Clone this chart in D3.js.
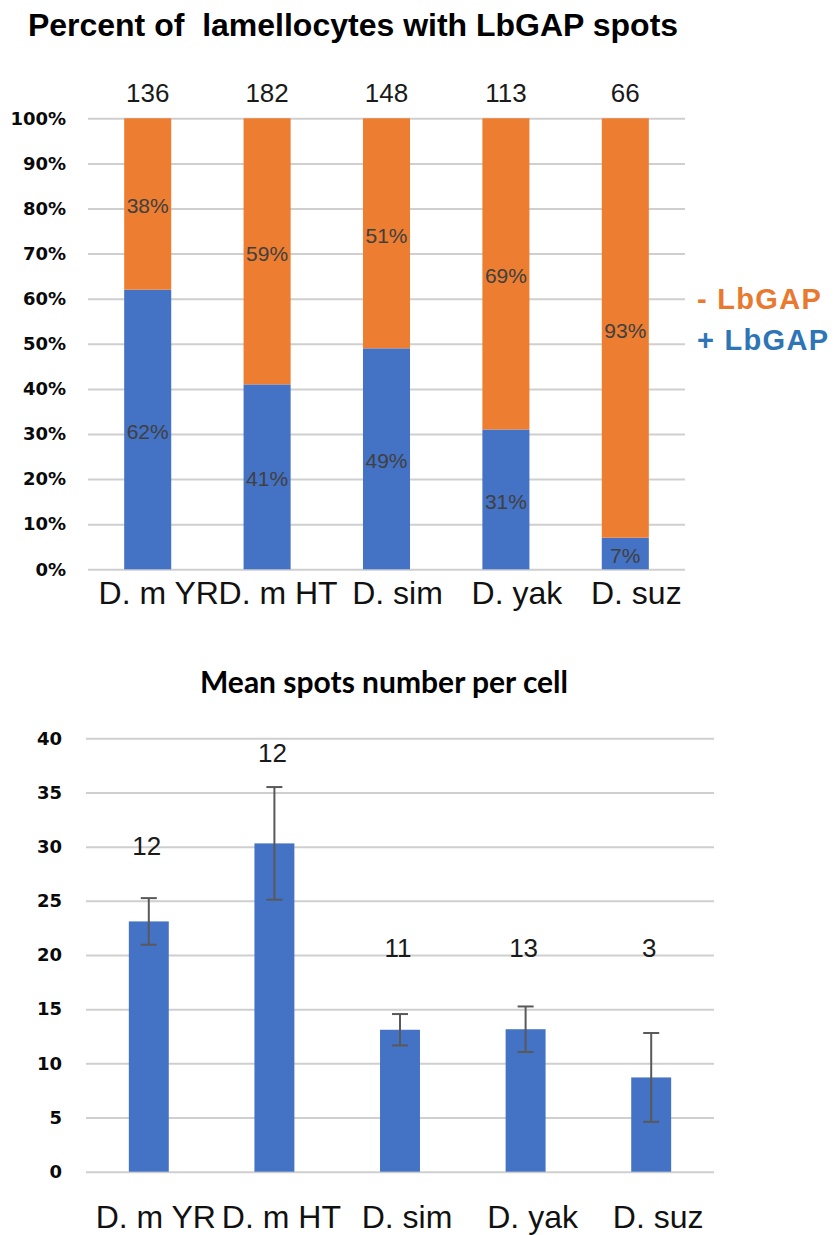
<!DOCTYPE html>
<html>
<head>
<meta charset="utf-8">
<script src="https://cdn.jsdelivr.net/npm/d3@7"></script>
<style>
  html, body { margin: 0; padding: 0; background: #fff; }
  svg { display: block; }
</style>
</head>
<body>
<svg id="chart" width="834" height="1235"></svg>
<script>
// Species / strains compared in both panels
const categories = ["D. m YR", "D. m HT", "D. sim", "D. yak", "D. suz"];

// Panel 1: share of lamellocytes with (+) and without (-) LbGAP spots, in percent
const plusPct = [62, 41, 49, 31, 7];
const minusPct = [38, 59, 51, 69, 93];
// number of lamellocytes scored per strain
const cellCounts = [136, 182, 148, 113, 66];
const pctTicks = [0, 10, 20, 30, 40, 50, 60, 70, 80, 90, 100];

// Panel 2: mean number of LbGAP spots per cell, with error bars
const meanSpots = [23.1, 30.3, 13.1, 13.15, 8.7];
const spotsErr = [2.15, 5.2, 1.45, 2.1, 4.1];
// number of cells averaged per strain
const nCells = [12, 12, 11, 13, 3];
const spotTicks = [0, 5, 10, 15, 20, 25, 30, 35, 40];

const BLUE = "#4472C4", ORANGE = "#ED7D31", GRID = "#cfcfcf";
const svg = d3.select("#chart");

// ---------- Panel 1: stacked percentage bars ----------
{
  const x = d3.scaleBand().domain(categories).range([88, 685])
    .paddingInner(0.606).paddingOuter(0.303);
  const y = d3.scaleLinear().domain([0, 100]).range([569.3, 118.3]);
  const g = svg.append("g");

  g.append("text").attr("x", 353).attr("y", 36).attr("text-anchor", "middle")
    .attr("font-family", "Liberation Sans, Arial, sans-serif").attr("font-weight", "bold")
    .attr("font-size", 32).attr("fill", "#000")
    .attr("xml:space", "preserve")
    .text("Percent of  lamellocytes with LbGAP spots");

  const yAxis = g.append("g").attr("transform", "translate(88,0)")
    .call(d3.axisLeft(y).tickValues(pctTicks).tickSize(-(685 - 88)).tickPadding(22)
      .tickFormat(d => d + "%"));
  yAxis.select(".domain").remove();
  yAxis.selectAll(".tick line").attr("stroke", GRID).attr("stroke-width", 2);
  yAxis.selectAll(".tick text").attr("font-family", "DejaVu Sans, sans-serif")
    .attr("font-weight", "bold").attr("font-size", 18).attr("fill", "#0a0a0a");

  const rows = categories.map((c, i) => ({ c, plus: plusPct[i], minus: minusPct[i], n: cellCounts[i] }));

  g.selectAll("rect.plus").data(rows).join("rect").attr("class", "plus")
    .attr("x", d => x(d.c)).attr("width", x.bandwidth())
    .attr("y", d => y(d.plus)).attr("height", d => y(0) - y(d.plus))
    .attr("fill", BLUE);
  g.selectAll("rect.minus").data(rows).join("rect").attr("class", "minus")
    .attr("x", d => x(d.c)).attr("width", x.bandwidth())
    .attr("y", d => y(d.plus + d.minus)).attr("height", d => y(d.plus) - y(d.plus + d.minus))
    .attr("fill", ORANGE);

  const segLabel = (sel) => sel.attr("text-anchor", "middle").attr("dominant-baseline", "central")
    .attr("font-family", "Liberation Sans, Arial, sans-serif").attr("font-size", 21).attr("fill", "#404040");
  g.selectAll("text.plus").data(rows).join("text").attr("class", "plus")
    .attr("x", d => x(d.c) + x.bandwidth() / 2).attr("y", d => y(d.plus / 2) + 2)
    .text(d => d.plus + "%").call(segLabel);
  g.selectAll("text.minus").data(rows).join("text").attr("class", "minus")
    .attr("x", d => x(d.c) + x.bandwidth() / 2).attr("y", d => y(d.plus + d.minus / 2) + 2)
    .text(d => d.minus + "%").call(segLabel);

  // cell counts above each bar
  g.selectAll("text.count").data(rows).join("text").attr("class", "count")
    .attr("x", d => x(d.c) + x.bandwidth() / 2).attr("y", y(100) - 16)
    .attr("text-anchor", "middle").attr("font-family", "Liberation Sans, Arial, sans-serif")
    .attr("font-size", 26).attr("fill", "#1a1a1a").text(d => d.n);

  // category labels
  g.selectAll("text.cat").data(categories).join("text").attr("class", "cat")
    .attr("x", d => x(d) + x.bandwidth() / 2 + 11).attr("y", 604)
    .attr("text-anchor", "middle").attr("font-family", "Liberation Sans, Arial, sans-serif")
    .attr("font-size", 32).attr("fill", "#111").text(d => d);

  // legend
  const leg = [{ t: "- LbGAP", c: "#E8792F", y: 309 }, { t: "+ LbGAP", c: "#2E75B6", y: 350 }];
  g.selectAll("text.leg").data(leg).join("text").attr("class", "leg")
    .attr("x", 697).attr("y", d => d.y)
    .attr("font-family", "Liberation Sans, Arial, sans-serif").attr("font-weight", "bold")
    .attr("font-size", 29).attr("letter-spacing", 1.3).attr("fill", d => d.c).text(d => d.t);
}

// ---------- Panel 2: mean spots per cell with error bars ----------
{
  const x = d3.scaleBand().domain(categories).range([86, 714])
    .paddingInner(0.682).paddingOuter(0.341);
  const y = d3.scaleLinear().domain([0, 40]).range([1171.7, 738.3]);
  const g = svg.append("g");

  g.append("text").attr("x", 384).attr("y", 693).attr("text-anchor", "middle")
    .attr("font-family", "Lato, sans-serif").attr("font-weight", "bold")
    .attr("font-size", 30).attr("fill", "#000")
    .text("Mean spots number per cell");

  const yAxis = g.append("g").attr("transform", "translate(86,0)")
    .call(d3.axisLeft(y).tickValues(spotTicks).tickSize(-(714 - 86)).tickPadding(24));
  yAxis.select(".domain").remove();
  yAxis.selectAll(".tick line").attr("stroke", GRID).attr("stroke-width", 2);
  yAxis.selectAll(".tick text").attr("font-family", "DejaVu Sans, sans-serif")
    .attr("font-weight", "bold").attr("font-size", 18).attr("fill", "#0a0a0a");

  const rows = categories.map((c, i) => ({ c, m: meanSpots[i], e: spotsErr[i], n: nCells[i] }));

  g.selectAll("rect.bar").data(rows).join("rect").attr("class", "bar")
    .attr("x", d => x(d.c)).attr("width", x.bandwidth())
    .attr("y", d => y(d.m)).attr("height", d => y(0) - y(d.m))
    .attr("fill", BLUE);

  // error bars
  const cx = d => x(d.c) + x.bandwidth() / 2;
  const eb = g.selectAll("g.err").data(rows).join("g").attr("class", "err")
    .attr("stroke", "#595959").attr("stroke-width", 2);
  eb.append("line").attr("x1", cx).attr("x2", cx)
    .attr("y1", d => y(d.m + d.e)).attr("y2", d => y(d.m - d.e));
  eb.append("line").attr("x1", d => cx(d) - 8).attr("x2", d => cx(d) + 8)
    .attr("y1", d => y(d.m + d.e)).attr("y2", d => y(d.m + d.e));
  eb.append("line").attr("x1", d => cx(d) - 8).attr("x2", d => cx(d) + 8)
    .attr("y1", d => y(d.m - d.e)).attr("y2", d => y(d.m - d.e));

  // n labels, placed at these heights on the value axis
  const nLabelLevel = [29.2, 37.8, 19.8, 19.8, 19.8];
  g.selectAll("text.n").data(rows).join("text").attr("class", "n")
    .attr("x", d => cx(d) - 2).attr("y", (d, i) => y(nLabelLevel[i]))
    .attr("text-anchor", "middle").attr("font-family", "Liberation Sans, Arial, sans-serif")
    .attr("font-size", 26).attr("fill", "#1a1a1a").text(d => d.n);

  g.selectAll("text.cat").data(categories).join("text").attr("class", "cat")
    .attr("x", d => x(d) + x.bandwidth() / 2 + 7).attr("y", 1228)
    .attr("text-anchor", "middle").attr("font-family", "Liberation Sans, Arial, sans-serif")
    .attr("font-size", 32).attr("fill", "#111").text(d => d);
}
</script>
</body>
</html>
